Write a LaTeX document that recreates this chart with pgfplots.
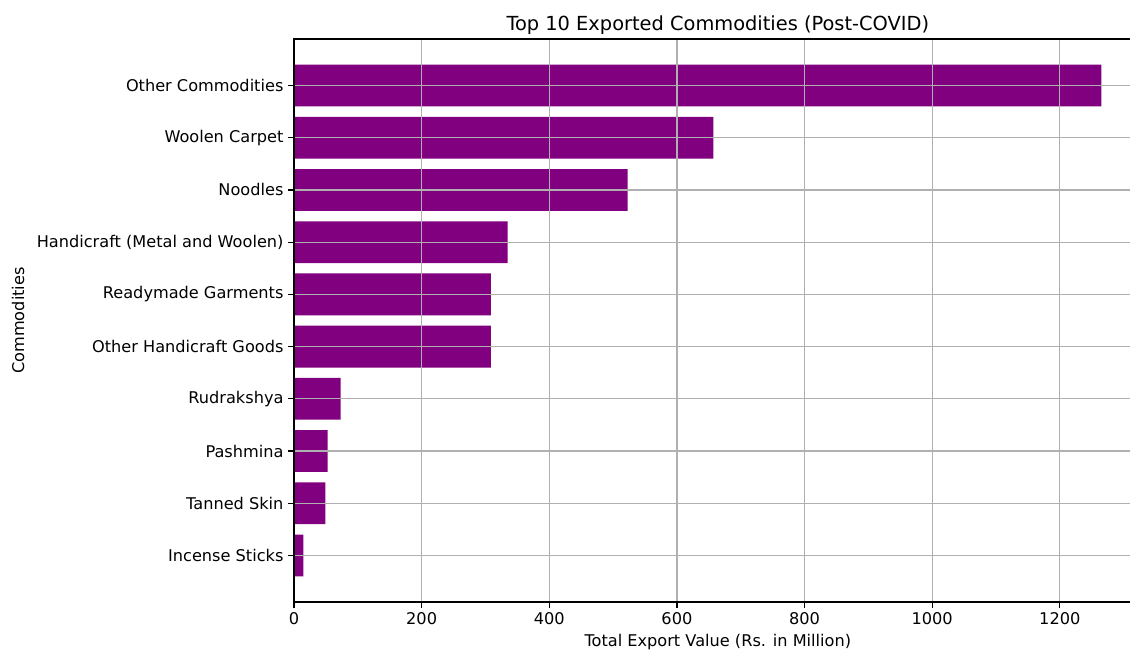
\documentclass[border=0pt]{standalone}
\usepackage{pgfplots}
\pgfplotsset{compat=1.18}
\usepackage{fontspec}
\setmainfont{DejaVu Sans}
\definecolor{barpurple}{HTML}{800080}
\definecolor{gridgray}{HTML}{B0B0B0}
\begin{document}
\begin{tikzpicture}
\useasboundingbox (-211.68pt,-34.56pt) rectangle (601.92pt,433.44pt);
\begin{axis}[
  at={(0,0)}, anchor=south west,
  scale only axis,
  width=610.3pt, height=405.36pt,
  xmin=0, xmax=1328.25,
  ymin=-0.89, ymax=9.89,
  xbar, bar width=0.8,
  axis on top,
  grid=major,
  major grid style={gridgray, line width=0.93pt},
  axis line style={black, line width=0.93pt},
  tick style={black, line width=0.93pt},
  tick align=outside,
  major tick length=4.07pt,
  xtick pos=bottom, ytick pos=left,
  xtick={0,200,400,600,800,1000,1200},
  ytick={0,1,2,3,4,5,6,7,8,9},
  yticklabels={Incense Sticks,Tanned Skin,Pashmina,Rudrakshya,Other Handicraft Goods,Readymade Garments,{Handicraft (Metal and Woolen)},Noodles,Woolen Carpet,Other Commodities},
  ticklabel style={font=\fontsize{11.63}{14}\selectfont},
  /pgf/number format/assume math mode=true,
  scaled x ticks=false,
  xticklabel style={/pgf/number format/1000 sep={}},
  title={Top 10 Exported Commodities (Post-COVID)},
  title style={font=\fontsize{13.96}{16}\selectfont, yshift=-6pt},
  xlabel={Total Export Value (Rs. in Million)},
  ylabel={Commodities},
  label style={font=\fontsize{11.63}{14}\selectfont},
  ylabel style={at={(axis description cs:-0.3256,0.5)}, anchor=center},
]
\addplot[fill=barpurple, draw=none] coordinates {
(14.7,0) (49,1) (52.8,2) (73,3) (308.6,4) (308.6,5) (334.7,6) (522.7,7) (657,8) (1265,9)
};
\end{axis}
\end{tikzpicture}
\end{document}
